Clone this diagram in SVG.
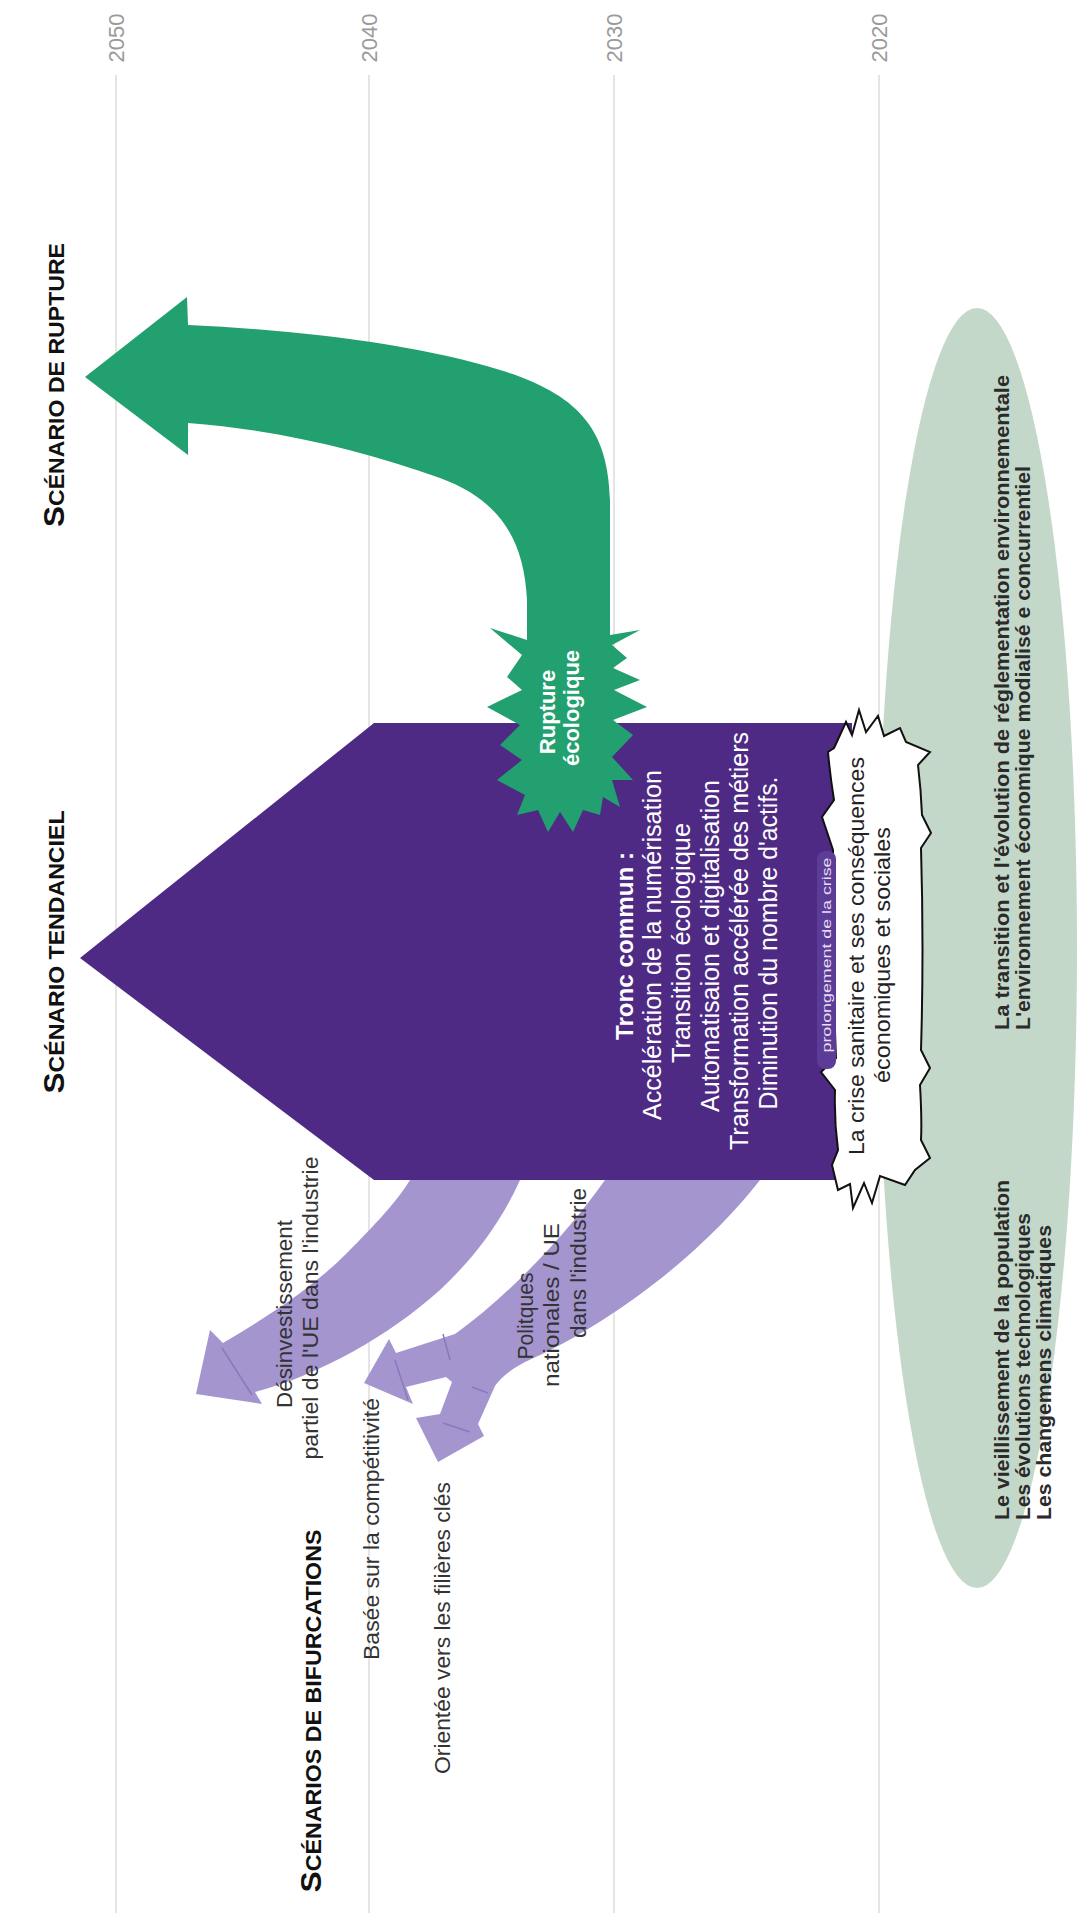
<svg xmlns="http://www.w3.org/2000/svg" width="1087" height="1913" viewBox="0 0 1087 1913">
<style>
text{font-family:"Liberation Sans",Arial,sans-serif;}
.grid{stroke:#dcdcdc;stroke-width:1.5;fill:none;}
.year{font-size:22px;fill:#9a9a9a;text-anchor:middle;}
.title{font-size:22px;font-weight:bold;fill:#111;text-anchor:middle;}
.white{fill:#fff;text-anchor:middle;}
.lbl{font-size:22px;fill:#333;text-anchor:middle;}
.ell{font-size:20px;font-weight:bold;fill:#2b2b2b;}
.crisis{font-size:22px;fill:#222;text-anchor:middle;}
.lp{fill:#a595cf;}
.seam{stroke:#8a78bd;stroke-width:1.5;fill:none;}
</style>
<rect width="1087" height="1913" fill="#fff"/>
<g id="grid">
<line class="grid" x1="116" y1="75" x2="116" y2="1913"/>
<line class="grid" x1="369" y1="75" x2="369" y2="1913"/>
<line class="grid" x1="614" y1="75" x2="614" y2="1913"/>
<line class="grid" x1="879" y1="75" x2="879" y2="1913"/>
<text class="year" transform="translate(124,38) rotate(-90)">2050</text>
<text class="year" transform="translate(377,38) rotate(-90)">2040</text>
<text class="year" transform="translate(622,38) rotate(-90)">2030</text>
<text class="year" transform="translate(887,38) rotate(-90)">2020</text>
</g>
<g id="context-ellipse">
<ellipse cx="977" cy="948" rx="100" ry="640" fill="#c4d8ca"/>
<text class="ell" transform="translate(1009,1030) rotate(-90)" textLength="655" lengthAdjust="spacingAndGlyphs">La transition et l'évolution de réglementation environnementale</text>
<text class="ell" transform="translate(1030,1030) rotate(-90)" textLength="564" lengthAdjust="spacingAndGlyphs">L'environnement économique modialisé e concurrentiel</text>
<text class="ell" transform="translate(1009,1520) rotate(-90)" textLength="340" lengthAdjust="spacingAndGlyphs">Le vieillissement de la population</text>
<text class="ell" transform="translate(1030,1520) rotate(-90)" textLength="307" lengthAdjust="spacingAndGlyphs">Les évolutions technologiques</text>
<text class="ell" transform="translate(1051,1520) rotate(-90)" textLength="295" lengthAdjust="spacingAndGlyphs">Les changemens climatiques</text>
</g>
<g id="connectors">
<path id="arrow-desinvestissement" class="lp" d="M410,1180 L520,1180 C500,1225 470,1262 440,1290 C390,1335 320,1375 255,1392 L262,1404 L196,1394 L210,1330 L223,1343 C265,1318 310,1290 347,1253 C375,1225 398,1200 410,1180 Z"/>
<line class="seam" x1="222" y1="1348" x2="252" y2="1395"/>
<path id="arrow-politiques" class="lp" d="M605,1180 L760,1180 C710,1245 620,1320 525,1362 C510,1370 500,1378 495,1386 L478,1424 L484,1436 L438,1462 L416,1418 L440,1414 L452,1382 L446,1377 L406,1387 L413,1404 L364,1383 L389,1339 L396,1353 L455,1334 C510,1295 570,1230 605,1180 Z"/>
<path class="seam" d="M395,1360 L408,1400 M443,1423 L470,1432 M443,1334 L450,1360 M472,1387 L488,1393"/>
<path id="arrow-rupture" fill="#22a06f" d="M188,325 C300,330 420,345 500,370 C580,395 608,430 610,500 L610,640 L527,640 L527,600 C524,540 500,500 440,478 C360,450 280,430 188,423 L188,455 L85,377 L187,297 Z"/>
</g>
<g id="scenario-tendanciel">
<polygon points="80,958 374,723 852,723 852,1180 374,1180" fill="#4e2a84"/>
<text class="white" font-weight="bold" font-size="24" transform="translate(633,946) rotate(-90)" textLength="188" lengthAdjust="spacingAndGlyphs">Tronc commun :</text>
<text class="white" font-size="25" transform="translate(661,945) rotate(-90)" textLength="350" lengthAdjust="spacingAndGlyphs">Accélération de la numérisation</text>
<text class="white" font-size="25" transform="translate(690,943) rotate(-90)" textLength="240" lengthAdjust="spacingAndGlyphs">Transition écologique</text>
<text class="white" font-size="25" transform="translate(719,946) rotate(-90)" textLength="332" lengthAdjust="spacingAndGlyphs">Automatisaion et digitalisation</text>
<text class="white" font-size="25" transform="translate(748,941) rotate(-90)" textLength="418" lengthAdjust="spacingAndGlyphs">Transformation accélérée des métiers</text>
<text class="white" font-size="25" transform="translate(777,943) rotate(-90)" textLength="333" lengthAdjust="spacingAndGlyphs">Diminution du nombre d'actifs.</text>
</g>
<g id="rupture-ecologique">
<polygon fill="#22a06f" points="527,640 490,628 522,655 507,677 522,690 487,707 520,725 500,745 522,760 497,780 525,795 517,815 538,810 548,832 560,812 573,832 583,810 600,815 603,797 620,807 612,780 633,780 612,757 633,735 613,720 647,707 614,690 640,680 613,668 627,658 612,645 640,630 610,635"/>
<text class="white" font-weight="bold" font-size="22" transform="translate(555,712) rotate(-90)">Rupture</text>
<text class="white" font-weight="bold" font-size="22" transform="translate(579,708) rotate(-90)">écologique</text>
</g>
<g id="crise">
<path fill="#fff" stroke="#111" stroke-width="2" stroke-linejoin="miter" d="M834,748 L846,722 L852,735 L859,710 L866,732 L878,716 L884,736 L900,728 L906,742 L930,752 L918,765 Q921,790 922,815 L931,833 L921,848 Q924,950 921,1050 L930,1068 L920,1085 Q922,1120 921,1140 L930,1158 L915,1170 L905,1185 L880,1176 L872,1203 L864,1183 L853,1208 L850,1184 L838,1190 L832,1165 L838,1150 Q834,1120 835,1090 L821,1072 L836,1058 Q832,960 833,850 L822,817 L834,800 Q830,775 828,752 Z"/>
<text class="crisis" transform="translate(864,956) rotate(-90)" textLength="398" lengthAdjust="spacingAndGlyphs">La crise sanitaire et ses conséquences</text>
<text class="crisis" transform="translate(890,955) rotate(-90)" textLength="256" lengthAdjust="spacingAndGlyphs">économiques et sociales</text>
</g>
<g id="prolongement">
<rect x="817" y="851" width="19" height="218" rx="8" fill="#5b3c96"/>
<text fill="#e6def5" font-size="12" text-anchor="middle" transform="translate(831,955) rotate(-90)" textLength="195" lengthAdjust="spacingAndGlyphs">prolongement de la crise</text>
</g>
<g id="titles">
<text class="title" transform="translate(64,385) rotate(-90)" textLength="284" lengthAdjust="spacingAndGlyphs"><tspan font-size="30">S</tspan>CÉNARIO DE RUPTURE</text>
<text class="title" transform="translate(64,952) rotate(-90)" textLength="283" lengthAdjust="spacingAndGlyphs"><tspan font-size="30">S</tspan>CÉNARIO TENDANCIEL</text>
<text class="title" transform="translate(321,1711) rotate(-90)" textLength="363" lengthAdjust="spacingAndGlyphs"><tspan font-size="30">S</tspan>CÉNARIOS DE BIFURCATIONS</text>
</g>
<g id="bifurcations">
<text class="lbl" transform="translate(292,1314) rotate(-90)" textLength="188" lengthAdjust="spacingAndGlyphs">Désinvestissement</text>
<text class="lbl" transform="translate(318,1308) rotate(-90)" textLength="303" lengthAdjust="spacingAndGlyphs">partiel de l'UE dans l'industrie</text>
<text class="lbl" transform="translate(533,1316) rotate(-90)" textLength="87" lengthAdjust="spacingAndGlyphs">Politques</text>
<text class="lbl" transform="translate(559,1305) rotate(-90)" textLength="164" lengthAdjust="spacingAndGlyphs">nationales / UE</text>
<text class="lbl" transform="translate(586,1263) rotate(-90)" textLength="150" lengthAdjust="spacingAndGlyphs">dans l'industrie</text>
<text class="lbl" transform="translate(379,1529) rotate(-90)" textLength="262" lengthAdjust="spacingAndGlyphs">Basée sur la compétitivité</text>
<text class="lbl" transform="translate(450,1628) rotate(-90)" textLength="292" lengthAdjust="spacingAndGlyphs">Orientée vers les filières clés</text>
</g>
</svg>
